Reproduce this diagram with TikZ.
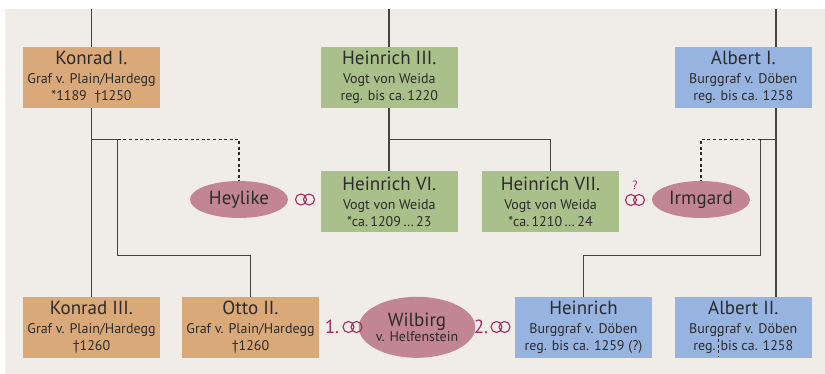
\documentclass[tikz,border=0pt]{standalone}
\usepackage{fontspec}
\setmainfont{PT Sans}
\usetikzlibrary{shapes.geometric}
\definecolor{bgc}{HTML}{F0EDE9}
\definecolor{obox}{HTML}{DAA979}
\definecolor{gbox}{HTML}{A9C08A}
\definecolor{bbox}{HTML}{97B3DF}
\definecolor{pinkc}{HTML}{C28594}
\definecolor{ringc}{HTML}{A12B5F}
\definecolor{txt}{HTML}{2B2B2B}
\definecolor{linec}{HTML}{444444}
\definecolor{dashc}{HTML}{2A2A2A}
\newcommand\ttl[1]{{\fontsize{19}{20}\selectfont #1}}
\tikzset{
  person/.style={rectangle, minimum width=137pt, minimum height=61pt, inner sep=0pt,
    align=center, text=txt, font=\fontsize{14}{17}\selectfont},
  obx/.style={person, fill=obox},
  gbx/.style={person, fill=gbox},
  bbx/.style={person, fill=bbox},
  spouse/.style={ellipse, fill=pinkc, inner sep=0pt, minimum width=98pt, minimum height=37pt,
    text=txt, align=center, font=\fontsize{14}{15}\selectfont},
  rel/.style={draw=linec, line width=1.4pt},
  unc/.style={draw=dashc, line width=1.3pt, dash pattern=on 3pt off 2.6pt},
  mark label/.style={text=ringc, inner sep=0pt, font=\fontsize{19}{20}\selectfont},
  rings/.pic={\draw[ringc, line width=1.1pt] (-4,0) circle[radius=5.5] (4,0) circle[radius=5.5];}
}
\begin{document}
\begin{tikzpicture}[x=1pt,y=-1pt]
\useasboundingbox (0,0) rectangle (825,374);
\fill[bgc] (5,9) rectangle (825,374);

% coordinates
\coordinate (topK) at (91.5,9);
\coordinate (topH) at (389,9);
\coordinate (topA) at (776,9);
\coordinate (kj) at (91.5,139.3);
\coordinate (kb) at (117.7,139.3);
\coordinate (kb2) at (117.7,255.7);
\coordinate (ko) at (250.5,255.7);
\coordinate (kd) at (239,139.3);
\coordinate (hj) at (389,139.3);
\coordinate (hj2) at (550.5,139.3);
\coordinate (aj) at (776,139.3);
\coordinate (ab) at (760.7,139.3);
\coordinate (ab2) at (760.7,255.7);
\coordinate (ah) at (583.5,255.7);
\coordinate (ad) at (701,139.3);
\coordinate (art1) at (718.7,328);
\coordinate (art2) at (718.7,357);

% connectors (drawn under boxes)
\draw[rel] (topK) -- (91.5,47);
\draw[rel] (topH) -- (389,47);
\draw[rel] (topA) -- (776,297);
\draw[rel] (91.5,108) -- (91.5,297);
\draw[rel] (kj) -- (kb) -- (kb2) -- (ko) -- (250.5,297);
\draw[unc] (kb) -- (kd) -- (239,181);
\draw[rel] (389,108) -- (389,171);
\draw[rel] (hj) -- (hj2) -- (550.5,171);
\draw[rel] (aj) -- (ab) -- (ab2) -- (ah) -- (583.5,297);
\draw[unc] (ab) -- (ad) -- (701,181);

% top row
\node[obx] (k1) at (91.5,77.5) {\ttl{Konrad I.}\\[2pt]Graf v. Plain/Hardegg\\*1189\ \ †1250};
\node[gbx] (h3) at (389.3,77.5) {\ttl{Heinrich III.}\\[2pt]Vogt von Weida\\reg. bis ca.\,1220};
\node[bbx] (a1) at (743.3,77.5) {\ttl{Albert I.}\\[2pt]Burggraf v. Döben\\reg. bis ca. 1258};

% middle row
\node[spouse] (hey) at (239,199.5) {\ttl{Heylike}};
\node[gbx] (h6) at (389.3,201.5) {\ttl{Heinrich VI.}\\[2pt]Vogt von Weida\\*ca.\,1209\,…\,23};
\node[gbx] (h7) at (550.5,201.5) {\ttl{Heinrich VII.}\\[2pt]Vogt von Weida\\*ca.\,1210\,…\,24};
\node[spouse] (irm) at (701,199.5) {\ttl{Irmgard}};

% bottom row
\node[obx] (k3) at (91.5,327.5) {\ttl{Konrad III.}\\[2pt]Graf v. Plain/Hardegg\\†1260};
\node[obx] (o2) at (250.5,327.5) {\ttl{Otto II.}\\[2pt]Graf v. Plain/Hardegg\\†1260};
\node[spouse, minimum height=61pt] (wil) at (417,327.3) {\ttl{Wilbirg}\\v. Helfenstein};
\node[bbx] (hb) at (583.5,327.5) {\ttl{Heinrich}\\[2pt]Burggraf v. Döben\\reg. bis ca. 1259 (?)};
\node[bbx] (a2) at (743.3,327.5) {\ttl{Albert II.}\\[2pt]Burggraf v. Döben\\reg. bis ca. 1258};
\draw[unc, line width=1pt] (art1) -- (art2);

% marriage symbols
\pic at (305,199.5) {rings};
\pic at (635,200) {rings};
\node[text=ringc, inner sep=0pt, font=\fontsize{12}{13}\selectfont] (q) at (635,185) {?};
\node[mark label] (m1) at (332,327) {1.};
\pic at (352.5,327) {rings};
\node[mark label] (m2) at (481,327) {2.};
\pic at (500.5,327) {rings};
\end{tikzpicture}
\end{document}
